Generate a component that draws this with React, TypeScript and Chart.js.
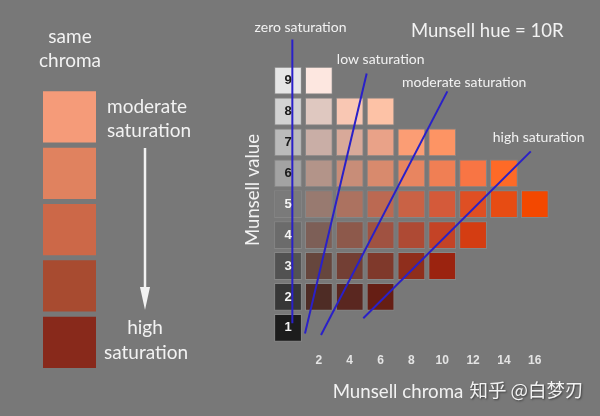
import React, { useEffect, useRef } from "react";
import { Chart, registerables } from "chart.js";

Chart.register(...registerables);

// ---------- data ----------
const CHROMA_STEPS = [0, 2, 4, 6, 8, 10, 12, 14, 16];
const CHROMA_TICKS = [2, 4, 6, 8, 10, 12, 14, 16];
const MUNSELL_VALUES = [1, 2, 3, 4, 5, 6, 7, 8, 9];
const MAX_CHROMA = [0, 6, 10, 12, 16, 14, 10, 6, 2]; // per Munsell value 1..9

// colours of each row (index = chroma / 2)
const colorsValue1 = ["#1c1c1c"];
const colorsValue2 = ["#373737", "#4e2c25", "#5a2720", "#661e14"];
const colorsValue3 = ["#525252", "#66463d", "#733f34", "#7f392b", "#8f2e1c", "#9b230f"];
const colorsValue4 = ["#6b6b6b", "#7d5f57", "#8d594b", "#a05241", "#ae4a34", "#c44326", "#d43d12"];
const colorsValue5 = ["#7a7a7a", "#987a70", "#ac7260", "#bb6952", "#c96245", "#d45a3a", "#df4f23", "#e74c13", "#f34800"];
const colorsValue6 = ["#a3a3a3", "#b39489", "#c88d78", "#d88a6d", "#e88560", "#f07f54", "#f87544", "#fe6a27"];
const colorsValue7 = ["#bababa", "#c9aea6", "#d8a999", "#e9a288", "#fb9d74", "#fd9464"];
const colorsValue8 = ["#d2d2d2", "#dfc8c0", "#f9c7b3", "#fdc2a6"];
const colorsValue9 = ["#e6e6e6", "#fde7e0"];
const ROW_COLORS = [
  colorsValue1, colorsValue2, colorsValue3, colorsValue4, colorsValue5,
  colorsValue6, colorsValue7, colorsValue8, colorsValue9,
];

// saturation lines (chroma, value)
const zeroSaturationLine = [{ x: 0.28, y: 1.15 }, { x: 0.28, y: 10.33 }];
const lowSaturationLine = [{ x: 1.1, y: 0.82 }, { x: 5.1, y: 9.23 }];
const moderateSaturationLine = [{ x: 2.14, y: 0.77 }, { x: 10.33, y: 8.65 }];
const highSaturationLine = [{ x: 4.88, y: 1.31 }, { x: 15.74, y: 6.71 }];

// left column: same chroma, decreasing value
const SWATCH_LABELS = ["1", "2", "3", "4", "5"];
const swatchChroma = [8, 8, 8, 8, 8];
const swatchColors = ["#f59b79", "#e0825f", "#cc6848", "#a84b30", "#88291b"];

// ---------- styles ----------
const BG = "#787878";
const TEXT = "#f2f2f2";
const LINE_BLUE = "#2a20c8";
const SANS = "Lato, 'Open Sans', sans-serif";
const CELL_HALF = 0.45;

type Label = { text: string; x: number; y: number; size: number; rotate?: number; family?: string; shadow?: boolean };

function textPlugin(id: string, labels: Label[], extra?: (ctx: CanvasRenderingContext2D) => void) {
  return {
    id,
    afterDraw(chart: any) {
      const ctx: CanvasRenderingContext2D = chart.ctx;
      labels.forEach((l) => {
        ctx.save();
        ctx.translate(l.x, l.y);
        if (l.rotate) ctx.rotate(l.rotate);
        ctx.font = `${l.size}px ${l.family || SANS}`;
        ctx.fillStyle = TEXT;
        ctx.textAlign = "center";
        ctx.textBaseline = "middle";
        if (l.shadow) {
          ctx.shadowColor = "rgba(0,0,0,0.5)";
          ctx.shadowBlur = 2;
          ctx.shadowOffsetX = 1;
          ctx.shadowOffsetY = 1;
        }
        ctx.fillText(l.text, 0, 0);
        ctx.restore();
      });
      if (extra) extra(ctx);
    },
  };
}

export default function App() {
  const leftRef = useRef<HTMLCanvasElement>(null);
  const rightRef = useRef<HTMLCanvasElement>(null);

  useEffect(() => {
    document.body.style.margin = "0";

    const leftLabels: Label[] = [
      { text: "same", x: 70, y: 37, size: 19 },
      { text: "chroma", x: 70, y: 61, size: 19 },
      { text: "moderate", x: 147, y: 107, size: 19 },
      { text: "saturation", x: 149, y: 131, size: 19 },
      { text: "high", x: 145, y: 328, size: 19 },
      { text: "saturation", x: 146, y: 353, size: 19 },
    ];
    const drawArrow = (ctx: CanvasRenderingContext2D) => {
      ctx.save();
      ctx.strokeStyle = TEXT;
      ctx.fillStyle = TEXT;
      ctx.lineWidth = 2.5;
      ctx.beginPath();
      ctx.moveTo(145, 148);
      ctx.lineTo(145, 295);
      ctx.stroke();
      ctx.beginPath();
      ctx.moveTo(140, 287);
      ctx.lineTo(150, 287);
      ctx.lineTo(145, 310);
      ctx.closePath();
      ctx.fill();
      ctx.restore();
    };

    const left = new Chart(leftRef.current!, {
      type: "bar",
      data: {
        labels: SWATCH_LABELS,
        datasets: [
          {
            data: swatchChroma,
            backgroundColor: swatchColors,
            borderWidth: 0,
            barPercentage: 0.91,
            categoryPercentage: 1,
          },
        ],
      },
      options: {
        indexAxis: "y",
        responsive: false,
        animation: false,
        layout: { padding: { left: 43, right: 144, top: 88.8, bottom: 45.5 } },
        plugins: { legend: { display: false }, tooltip: { enabled: false } },
        scales: {
          x: { type: "linear", min: 0, max: 8, display: false },
          y: { display: false },
        },
      },
      plugins: [textPlugin("leftTexts", leftLabels, drawArrow)],
    } as any);

    const cellDatasets = MUNSELL_VALUES.map((v, i) => ({
      type: "bar",
      label: `value ${v}`,
      data: CHROMA_STEPS.filter((c) => c <= MAX_CHROMA[i]).map((c) => ({
        x: c,
        y: [v - CELL_HALF, v + CELL_HALF],
      })),
      backgroundColor: ROW_COLORS[i],
      borderColor: "rgba(170,170,170,0.3)",
      borderWidth: 1,
      borderSkipped: false,
      grouped: false,
      barPercentage: 0.9,
      categoryPercentage: 1,
      order: 2,
    }));

    const lineDataset = (label: string, data: { x: number; y: number }[]) => ({
      type: "line",
      label,
      data,
      borderColor: LINE_BLUE,
      borderWidth: 2,
      pointRadius: 0,
      fill: false,
      tension: 0,
      clip: false,
      order: 1,
    });

    const rightLabels: Label[] = [
      { text: "zero saturation", x: 60.5, y: 27, size: 14 },
      { text: "low saturation", x: 140.7, y: 59, size: 14 },
      { text: "moderate saturation", x: 224.2, y: 82, size: 14 },
      { text: "high saturation", x: 298.7, y: 137, size: 14 },
      { text: "Munsell hue = 10R", x: 247.2, y: 31, size: 18.5 },
      { text: "Munsell chroma", x: 158, y: 392, size: 18.7 },
      { text: "知乎 @白梦刃", x: 286.5, y: 390, size: 18.5, family: "'Noto Sans CJK SC', sans-serif", shadow: true },
      { text: "Munsell value", x: 13.3, y: 190, size: 18.5, rotate: -Math.PI / 2 },
    ];

    const right = new Chart(rightRef.current!, {
      type: "bar",
      data: {
        datasets: [
          lineDataset("zero saturation", zeroSaturationLine),
          lineDataset("low saturation", lowSaturationLine),
          lineDataset("moderate saturation", moderateSaturationLine),
          lineDataset("high saturation", highSaturationLine),
          ...cellDatasets,
        ],
      },
      options: {
        responsive: false,
        animation: false,
        layout: { padding: { left: 8.6, right: 49.8, top: 65.1, bottom: 38.3 } },
        plugins: { legend: { display: false }, tooltip: { enabled: false } },
        scales: {
          x: {
            type: "linear",
            min: -1,
            max: 17,
            offset: false,
            afterBuildTicks: (scale: any) => {
              scale.ticks = CHROMA_TICKS.map((value) => ({ value }));
            },
            grid: { display: false, drawTicks: false },
            border: { display: false },
            ticks: {
              autoSkip: false,
              maxRotation: 0,
              padding: 10,
              color: "#e4e4e4",
              font: { family: "'Liberation Sans', Arial, sans-serif", size: 12, weight: "bold" },
            },
          },
          y: {
            type: "linear",
            min: 0.5,
            max: 9.5,
            afterBuildTicks: (scale: any) => {
              scale.ticks = MUNSELL_VALUES.map((value) => ({ value }));
            },
            grid: { display: false, drawTicks: false },
            border: { display: false },
            ticks: {
              mirror: true,
              crossAlign: "center",
              padding: 12,
              z: 1,
              autoSkip: false,
              color: (ctx: any) => (ctx.tick && ctx.tick.value >= 6 ? "#1a1a1a" : "#f4f4f4"),
              font: { family: "'Liberation Sans', Arial, sans-serif", size: 13, weight: "bold" },
            },
          },
        },
      },
      plugins: [textPlugin("rightTexts", rightLabels)],
    } as any);

    return () => {
      left.destroy();
      right.destroy();
    };
  }, []);

  return (
    <div style={{ position: "relative", width: 600, height: 416, background: BG, overflow: "hidden" }}>
      <canvas ref={leftRef} width={240} height={416} style={{ position: "absolute", left: 0, top: 0 }} />
      <canvas ref={rightRef} width={360} height={416} style={{ position: "absolute", left: 240, top: 0 }} />
    </div>
  );
}
